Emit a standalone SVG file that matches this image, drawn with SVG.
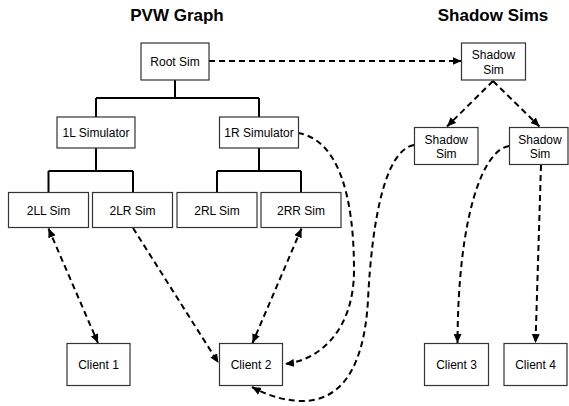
<svg xmlns="http://www.w3.org/2000/svg" width="569" height="406" viewBox="0 0 569 406">
<style>
.box{fill:#fff;stroke:#333;stroke-width:1.2}
.lbl{font-family:"Liberation Sans",Arial,sans-serif;font-size:12px;fill:#000;text-anchor:middle}
.title{font-family:"Liberation Sans",Arial,sans-serif;font-size:17px;font-weight:bold;fill:#000;text-anchor:middle}
.tree{fill:none;stroke:#000;stroke-width:2}
.dash{fill:none;stroke:#000;stroke-width:2;stroke-dasharray:6,4}
</style>
<defs>
<marker id="ah" viewBox="0 0 9 8" refX="9" refY="4" markerWidth="9" markerHeight="8" markerUnits="userSpaceOnUse" orient="auto-start-reverse">
<path d="M0,0 L9,4 L0,8 z" fill="#000"/>
</marker>
</defs>
<text class="title" x="177" y="21">PVW Graph</text>
<text class="title" x="493" y="21">Shadow Sims</text>
<g id="connectors">
<path class="tree" d="M175,80 V98 M96,98 H259 M96,98 V117 M259,98 V117"/>
<path class="tree" d="M96,148 V171 M48.5,171 H133 M48.5,171 V192 M133,171 V192"/>
<path class="tree" d="M259,148 V171 M217,171 H301 M217,171 V192 M301,171 V192"/>
<path class="dash" d="M209,61 H461.5" marker-end="url(#ah)"/>
<path class="dash" d="M493,81 L447,126.5" marker-end="url(#ah)"/>
<path class="dash" d="M493,81 L539.5,126.5" marker-end="url(#ah)"/>
<path class="dash" d="M48.5,228.5 L98,343" marker-start="url(#ah)" marker-end="url(#ah)"/>
<path class="dash" d="M133,228 L218.5,363" marker-end="url(#ah)"/>
<path class="dash" d="M301.5,228.5 L252.5,343" marker-start="url(#ah)" marker-end="url(#ah)"/>
<path class="dash" d="M298,133 C340,140 354,200 354,270 C354,330 320,360 285,364" marker-end="url(#ah)"/>
<path class="dash" d="M414,145 C385,150 372,220 368,300 C364,370 340,402 300,401 C280,400 265,394 252,387" marker-end="url(#ah)"/>
<path class="dash" d="M509,146 C483,150 458,215 457.5,343" marker-end="url(#ah)"/>
<path class="dash" d="M541,165 L535.5,343" marker-end="url(#ah)"/>
</g>
<g id="root-sim"><rect class="box" x="141" y="43" width="68" height="37"/><text class="lbl" x="175" y="66">Root Sim</text></g>
<g id="sim-1l"><rect class="box" x="57" y="117" width="78" height="31"/><text class="lbl" x="96" y="137">1L Simulator</text></g>
<g id="sim-1r"><rect class="box" x="219.5" y="117" width="79" height="31"/><text class="lbl" x="259" y="137">1R Simulator</text></g>
<g id="sim-2ll"><rect class="box" x="8.5" y="192.5" width="80" height="35"/><text class="lbl" x="48.5" y="214.5">2LL Sim</text></g>
<g id="sim-2lr"><rect class="box" x="92.5" y="192.5" width="80" height="35"/><text class="lbl" x="132.5" y="214.5">2LR Sim</text></g>
<g id="sim-2rl"><rect class="box" x="177" y="192.5" width="80" height="35"/><text class="lbl" x="217" y="214.5">2RL Sim</text></g>
<g id="sim-2rr"><rect class="box" x="261" y="192.5" width="80" height="35"/><text class="lbl" x="301" y="214.5">2RR Sim</text></g>
<g id="shadow-top"><rect class="box" x="461.5" y="43" width="64" height="37"/><text class="lbl" x="493.5" y="59">Shadow</text><text class="lbl" x="493.5" y="73.5">Sim</text></g>
<g id="shadow-left"><rect class="box" x="414.5" y="127.5" width="63.5" height="37"/><text class="lbl" x="446.3" y="143.5">Shadow</text><text class="lbl" x="446.3" y="158">Sim</text></g>
<g id="shadow-right"><rect class="box" x="509.5" y="127.5" width="58.5" height="37"/><text class="lbl" x="540" y="143.5">Shadow</text><text class="lbl" x="540" y="158">Sim</text></g>
<g id="client-1"><rect class="box" x="67" y="343.5" width="63" height="42"/><text class="lbl" x="98.5" y="368.5">Client 1</text></g>
<g id="client-2"><rect class="box" x="219.5" y="343.5" width="63" height="42"/><text class="lbl" x="251" y="368.5">Client 2</text></g>
<g id="client-3"><rect class="box" x="424.5" y="343.5" width="64" height="42"/><text class="lbl" x="456.5" y="368.5">Client 3</text></g>
<g id="client-4"><rect class="box" x="504" y="343.5" width="63" height="42"/><text class="lbl" x="535.5" y="368.5">Client 4</text></g>
</svg>
